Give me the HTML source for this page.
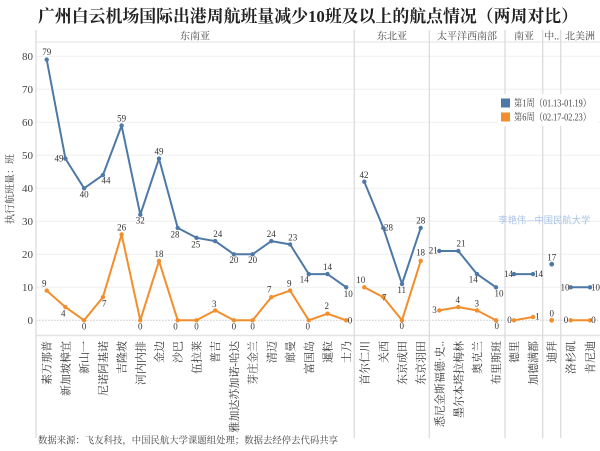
<!DOCTYPE html>
<html>
<head>
<meta charset="utf-8">
<style>
html,body{margin:0;padding:0;background:#fff;}
svg{display:block;}
.t{font-family:"Liberation Serif","Noto Serif CJK SC",serif;}
.dl{font-family:"Liberation Serif","Noto Serif CJK SC",serif;font-size:9px;fill:#333;text-anchor:middle;}
.xl{font-family:"Liberation Serif","Noto Serif CJK SC",serif;font-size:11px;fill:#333;text-anchor:end;}
.yt{font-family:"Liberation Serif",serif;font-size:11px;fill:#444;text-anchor:end;}
.hd{font-family:"Liberation Serif","Noto Serif CJK SC",serif;font-size:10px;fill:#444;text-anchor:middle;}
</style>
</head>
<body>
<svg width="600" height="451" viewBox="0 0 600 451" xmlns="http://www.w3.org/2000/svg">
<rect width="600" height="451" fill="#fff"/>
<!-- title -->
<text class="t" x="38" y="22" font-size="17" font-weight="bold" fill="#222" textLength="540" lengthAdjust="spacingAndGlyphs">广州白云机场国际出港周航班量减少10班及以上的航点情况（两周对比）</text>

<!-- gridlines -->
<g stroke="#efefef" stroke-width="1">
<line x1="36" y1="56.3" x2="600" y2="56.3"/>
<line x1="36" y1="89.3" x2="600" y2="89.3"/>
<line x1="36" y1="122.3" x2="600" y2="122.3"/>
<line x1="36" y1="155.3" x2="600" y2="155.3"/>
<line x1="36" y1="188.3" x2="600" y2="188.3"/>
<line x1="36" y1="221.3" x2="600" y2="221.3"/>
<line x1="36" y1="254.3" x2="600" y2="254.3"/>
<line x1="36" y1="287.3" x2="600" y2="287.3"/>
</g>
<line x1="36" y1="320.3" x2="600" y2="320.3" stroke="#c8c8c8" stroke-width="1" stroke-dasharray="1.5,1.5"/>

<!-- header line / bottom line -->
<line x1="36" y1="42" x2="600" y2="42" stroke="#e2e2e2" stroke-width="1"/>
<line x1="36" y1="335.5" x2="600" y2="335.5" stroke="#e2e2e2" stroke-width="1.5"/>

<!-- dividers -->
<g stroke="#dcdcdc" stroke-width="1.3">
<line x1="36" y1="30" x2="36" y2="438"/>
<line x1="354.3" y1="30" x2="354.3" y2="438"/>
<line x1="429.3" y1="30" x2="429.3" y2="438"/>
<line x1="505" y1="30" x2="505" y2="438"/>
<line x1="542.7" y1="30" x2="542.7" y2="438"/>
<line x1="560.7" y1="30" x2="560.7" y2="438"/>
</g>

<!-- headers -->
<text class="hd" x="195" y="39.5">东南亚</text>
<text class="hd" x="392" y="39.5">东北亚</text>
<text class="hd" x="467" y="39.5">太平洋西南部</text>
<text class="hd" x="524" y="39.5">南亚</text>
<text class="hd" x="551.7" y="39.5">中..</text>
<text class="hd" x="580" y="39.5">北美洲</text>

<!-- y ticks -->
<text class="yt" x="33" y="60">80</text>
<text class="yt" x="33" y="93">70</text>
<text class="yt" x="33" y="126">60</text>
<text class="yt" x="33" y="159">50</text>
<text class="yt" x="33" y="192">40</text>
<text class="yt" x="33" y="225">30</text>
<text class="yt" x="33" y="258">20</text>
<text class="yt" x="33" y="291">10</text>
<text class="yt" x="33" y="324">0</text>

<!-- y title -->
<text class="t" transform="translate(13.5,189) rotate(-90)" font-size="10" fill="#444" text-anchor="middle">执行航班量：班</text>

<!-- legend -->
<rect x="498" y="94" width="100" height="32" fill="#fff"/>
<rect x="501" y="98.5" width="9" height="9" fill="#4e79a7"/>
<rect x="501" y="112.5" width="9" height="9" fill="#f28e2b"/>
<text class="t" x="514" y="106.5" font-size="10" fill="#444" textLength="77" lengthAdjust="spacingAndGlyphs">第1周（01.13-01.19）</text>
<text class="t" x="514" y="120.5" font-size="10" fill="#444" textLength="77" lengthAdjust="spacingAndGlyphs">第6周（02.17-02.23）</text>

<!-- watermark -->
<text x="498.3" y="223.5" font-family="'Noto Sans CJK SC',sans-serif" font-size="9.5" fill="#a9c3e6" textLength="92" lengthAdjust="spacingAndGlyphs">李艳伟—中国民航大学</text>

<!-- series lines -->
<g fill="none" stroke-width="2" stroke-linejoin="round">
<polyline stroke="#4e79a7" points="46.7,59.6 65.4,158.6 84.1,188.3 102.9,175.1 121.6,125.6 140.3,214.7 159,158.6 177.7,227.9 196.5,237.8 215.2,241.1 233.9,254.3 252.6,254.3 271.3,241.1 290.1,244.4 308.8,274.1 327.5,274.1 346.2,287.3"/>
<polyline stroke="#f28e2b" points="46.7,290.6 65.4,307.1 84.1,320.3 102.9,297.2 121.6,234.5 140.3,320.3 159,260.9 177.7,320.3 196.5,320.3 215.2,310.4 233.9,320.3 252.6,320.3 271.3,297.2 290.1,290.6 308.8,320.3 327.5,313.7 346.2,320.3"/>
<polyline stroke="#4e79a7" points="364.3,181.7 383.3,227.9 402,284 420.7,227.9"/>
<polyline stroke="#f28e2b" points="364.3,287.3 383.3,297.2 402,320.3 420.7,260.9"/>
<polyline stroke="#4e79a7" points="439.3,251 458.3,251 477,274.1 496,287.3"/>
<polyline stroke="#f28e2b" points="439.3,310.4 458.3,307.1 477,310.4 496,320.3"/>
<polyline stroke="#4e79a7" points="514,274.1 533,274.1"/>
<polyline stroke="#f28e2b" points="514,320.3 533,317"/>
<polyline stroke="#4e79a7" points="570.7,287.3 590,287.3"/>
<polyline stroke="#f28e2b" points="570.7,320.3 590,320.3"/>
</g>

<!-- markers -->
<g fill="#4e79a7">
<circle cx="46.7" cy="59.6" r="2.2"/><circle cx="65.4" cy="158.6" r="2.2"/><circle cx="84.1" cy="188.3" r="2.2"/><circle cx="102.9" cy="175.1" r="2.2"/><circle cx="121.6" cy="125.6" r="2.2"/><circle cx="140.3" cy="214.7" r="2.2"/><circle cx="159" cy="158.6" r="2.2"/><circle cx="177.7" cy="227.9" r="2.2"/><circle cx="196.5" cy="237.8" r="2.2"/><circle cx="215.2" cy="241.1" r="2.2"/><circle cx="233.9" cy="254.3" r="2.2"/><circle cx="252.6" cy="254.3" r="2.2"/><circle cx="271.3" cy="241.1" r="2.2"/><circle cx="290.1" cy="244.4" r="2.2"/><circle cx="308.8" cy="274.1" r="2.2"/><circle cx="327.5" cy="274.1" r="2.2"/><circle cx="346.2" cy="287.3" r="2.2"/>
<circle cx="364.3" cy="181.7" r="2.2"/><circle cx="383.3" cy="227.9" r="2.2"/><circle cx="402" cy="284" r="2.2"/><circle cx="420.7" cy="227.9" r="2.2"/>
<circle cx="439.3" cy="251" r="2.2"/><circle cx="458.3" cy="251" r="2.2"/><circle cx="477" cy="274.1" r="2.2"/><circle cx="496" cy="287.3" r="2.2"/>
<circle cx="514" cy="274.1" r="2.2"/><circle cx="533" cy="274.1" r="2.2"/>
<circle cx="551.7" cy="264.2" r="2.4"/>
<circle cx="570.7" cy="287.3" r="2.2"/><circle cx="590" cy="287.3" r="2.2"/>
</g>
<g fill="#f28e2b">
<circle cx="46.7" cy="290.6" r="2.2"/><circle cx="65.4" cy="307.1" r="2.2"/><circle cx="84.1" cy="320.3" r="2.2"/><circle cx="102.9" cy="297.2" r="2.2"/><circle cx="121.6" cy="234.5" r="2.2"/><circle cx="140.3" cy="320.3" r="2.2"/><circle cx="159" cy="260.9" r="2.2"/><circle cx="177.7" cy="320.3" r="2.2"/><circle cx="196.5" cy="320.3" r="2.2"/><circle cx="215.2" cy="310.4" r="2.2"/><circle cx="233.9" cy="320.3" r="2.2"/><circle cx="252.6" cy="320.3" r="2.2"/><circle cx="271.3" cy="297.2" r="2.2"/><circle cx="290.1" cy="290.6" r="2.2"/><circle cx="308.8" cy="320.3" r="2.2"/><circle cx="327.5" cy="313.7" r="2.2"/><circle cx="346.2" cy="320.3" r="2.2"/>
<circle cx="364.3" cy="287.3" r="2.2"/><circle cx="383.3" cy="297.2" r="2.2"/><circle cx="402" cy="320.3" r="2.2"/><circle cx="420.7" cy="260.9" r="2.2"/>
<circle cx="439.3" cy="310.4" r="2.2"/><circle cx="458.3" cy="307.1" r="2.2"/><circle cx="477" cy="310.4" r="2.2"/><circle cx="496" cy="320.3" r="2.2"/>
<circle cx="514" cy="320.3" r="2.2"/><circle cx="533" cy="317" r="2.2"/>
<circle cx="551.7" cy="320.3" r="2.4"/>
<circle cx="570.7" cy="320.3" r="2.2"/><circle cx="590" cy="320.3" r="2.2"/>
</g>

<!-- data labels (y = center + 3) -->
<g class="dl">
<text class="dl" x="46.7" y="55">79</text>
<text class="dl" x="59" y="161.5">49</text>
<text class="dl" x="84.1" y="197.5">40</text>
<text class="dl" x="106" y="183.7">44</text>
<text class="dl" x="121.6" y="121.7">59</text>
<text class="dl" x="140.3" y="223.3">32</text>
<text class="dl" x="159" y="154.3">49</text>
<text class="dl" x="175" y="237.3">28</text>
<text class="dl" x="195.7" y="247.3">25</text>
<text class="dl" x="217.7" y="237">24</text>
<text class="dl" x="233.9" y="263">20</text>
<text class="dl" x="252.6" y="263">20</text>
<text class="dl" x="271.3" y="237">24</text>
<text class="dl" x="292.7" y="240.3">23</text>
<text class="dl" x="304.3" y="282.3">14</text>
<text class="dl" x="327.5" y="270">14</text>
<text class="dl" x="348.3" y="297">10</text>

<text class="dl" x="44.3" y="286.7">9</text>
<text class="dl" x="63.3" y="316.3">4</text>
<text class="dl" x="84.1" y="329.5">0</text>
<text class="dl" x="104.3" y="306.3">7</text>
<text class="dl" x="121.6" y="230.7">26</text>
<text class="dl" x="140.3" y="329.5">0</text>
<text class="dl" x="159" y="257">18</text>
<text class="dl" x="175.5" y="329.5">0</text>
<text class="dl" x="196.5" y="329.5">0</text>
<text class="dl" x="214.3" y="307">3</text>
<text class="dl" x="233.9" y="329.5">0</text>
<text class="dl" x="252.6" y="329.5">0</text>
<text class="dl" x="269.3" y="292.3">7</text>
<text class="dl" x="289.3" y="286.3">9</text>
<text class="dl" x="307.7" y="329.5">0</text>
<text class="dl" x="326.7" y="309">2</text>
<text class="dl" x="350" y="323.3">0</text>

<text class="dl" x="364" y="178">42</text>
<text class="dl" x="388.5" y="230.5">28</text>
<text class="dl" x="401.7" y="293">11</text>
<text class="dl" x="420.7" y="223.7">28</text>
<text class="dl" x="360.7" y="283">10</text>
<text class="dl" x="384.3" y="300.7">7</text>
<text class="dl" x="401.7" y="329">0</text>
<text class="dl" x="420.5" y="255.7">18</text>

<text class="dl" x="433.3" y="253.7">21</text>
<text class="dl" x="461" y="246.3">21</text>
<text class="dl" x="473.3" y="282.3">14</text>
<text class="dl" x="499" y="296.3">10</text>
<text class="dl" x="434.5" y="313">3</text>
<text class="dl" x="457.7" y="303">4</text>
<text class="dl" x="476.7" y="306.3">3</text>
<text class="dl" x="496.7" y="329">0</text>

<text class="dl" x="508.5" y="277">14</text>
<text class="dl" x="538.5" y="277">14</text>
<text class="dl" x="509.5" y="323">0</text>
<text class="dl" x="537.5" y="319.7">1</text>

<text class="dl" x="551.7" y="260.3">17</text>
<text class="dl" x="551.7" y="316.3">0</text>

<text class="dl" x="565" y="290.3">10</text>
<text class="dl" x="595.5" y="290.3">10</text>
<text class="dl" x="566" y="323">0</text>
<text class="dl" x="593.5" y="323">0</text>
</g>

<!-- x labels (rotated) -->
<g>
<text class="xl" transform="translate(50.7,341) rotate(-90)">素万那普</text>
<text class="xl" transform="translate(69.4,341) rotate(-90)">新加坡樟宜</text>
<text class="xl" transform="translate(88.1,341) rotate(-90)">新山一</text>
<text class="xl" transform="translate(106.9,341) rotate(-90)">尼诺阿基诺</text>
<text class="xl" transform="translate(125.6,341) rotate(-90)">吉隆坡</text>
<text class="xl" transform="translate(144.3,341) rotate(-90)">河内内排</text>
<text class="xl" transform="translate(163,341) rotate(-90)">金边</text>
<text class="xl" transform="translate(181.7,341) rotate(-90)">沙巴</text>
<text class="xl" transform="translate(200.5,341) rotate(-90)">伍拉莱</text>
<text class="xl" transform="translate(219.2,341) rotate(-90)">普吉</text>
<text class="xl" transform="translate(237.9,341) rotate(-90)">雅加达苏加诺-哈达</text>
<text class="xl" transform="translate(256.6,341) rotate(-90)">芽庄金兰</text>
<text class="xl" transform="translate(275.3,341) rotate(-90)">清迈</text>
<text class="xl" transform="translate(294.1,341) rotate(-90)">廊曼</text>
<text class="xl" transform="translate(312.8,341) rotate(-90)">富国岛</text>
<text class="xl" transform="translate(331.5,341) rotate(-90)">暹粒</text>
<text class="xl" transform="translate(350.2,341) rotate(-90)">士乃</text>
<text class="xl" transform="translate(368.3,341) rotate(-90)">首尔仁川</text>
<text class="xl" transform="translate(387.3,341) rotate(-90)">关西</text>
<text class="xl" transform="translate(406,341) rotate(-90)">东京成田</text>
<text class="xl" transform="translate(424.7,341) rotate(-90)">东京羽田</text>
<text class="xl" transform="translate(443.3,341) rotate(-90)">悉尼金斯福德·史..</text>
<text class="xl" transform="translate(462.3,341) rotate(-90)">墨尔本塔拉梅林</text>
<text class="xl" transform="translate(481,341) rotate(-90)">奥克兰</text>
<text class="xl" transform="translate(500,341) rotate(-90)">布里斯班</text>
<text class="xl" transform="translate(518,341) rotate(-90)">德里</text>
<text class="xl" transform="translate(537,341) rotate(-90)">加德满都</text>
<text class="xl" transform="translate(555.7,341) rotate(-90)">迪拜</text>
<text class="xl" transform="translate(574.7,341) rotate(-90)">洛杉矶</text>
<text class="xl" transform="translate(594,341) rotate(-90)">肯尼迪</text>
</g>

<!-- footer -->
<text class="t" x="38" y="443.5" font-size="9.5" fill="#444" textLength="300" lengthAdjust="spacingAndGlyphs">数据来源：飞友科技，中国民航大学课题组处理；数据去经停去代码共享</text>
</svg>
</body>
</html>
